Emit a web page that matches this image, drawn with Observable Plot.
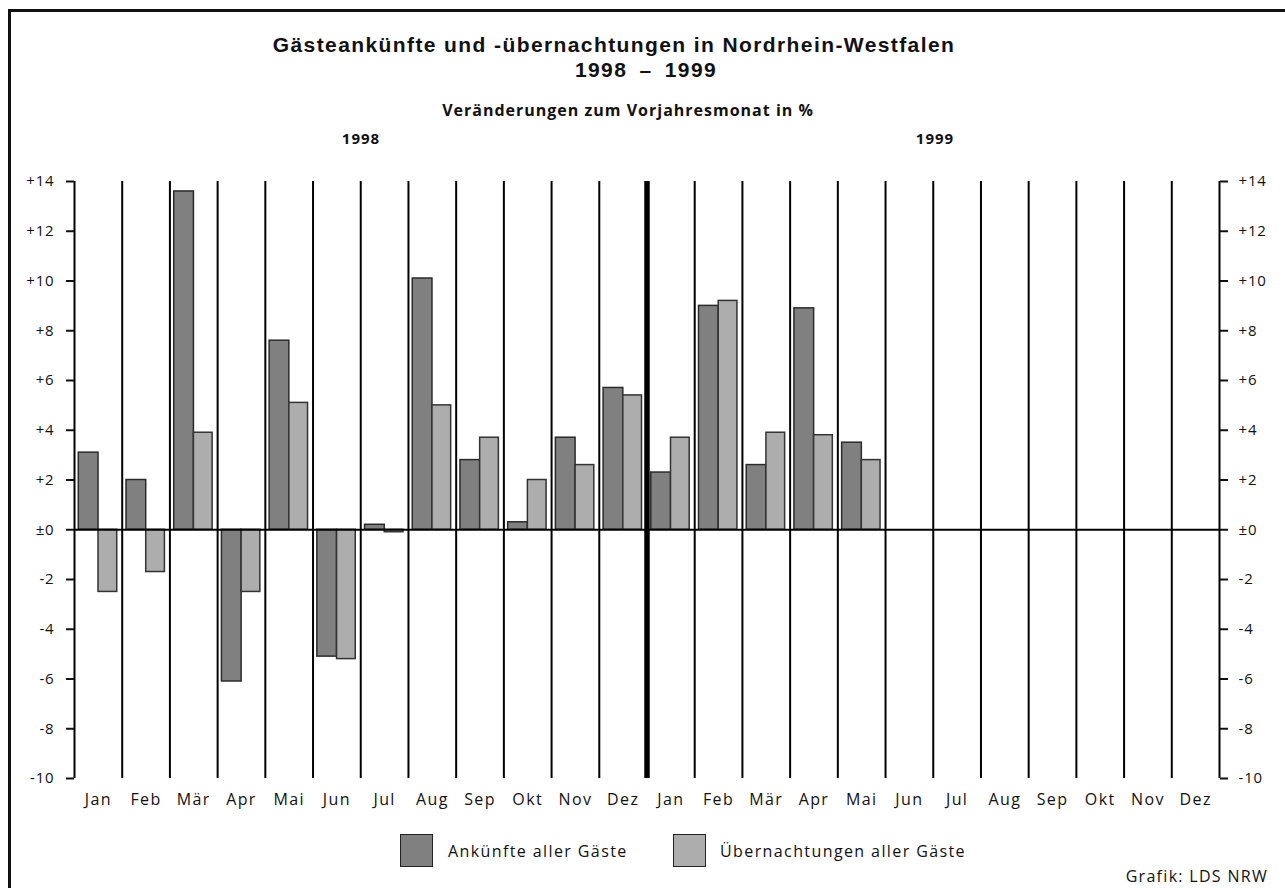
<!DOCTYPE html>
<html>
<head>
<meta charset="utf-8">
<script src="https://cdn.jsdelivr.net/npm/d3@7"></script>
<script src="https://cdn.jsdelivr.net/npm/@observablehq/plot@0.6"></script>
<style>
  html, body { margin: 0; padding: 0; background: #fff; }
  #wrap { position: relative; width: 1285px; height: 888px; overflow: hidden; font-family: "Open Sans", sans-serif; color: #111; }
  #frame { position: absolute; left: 8px; top: 9px; width: 1400px; height: 1000px; border-left: 3px solid #111; border-top: 3px solid #111; }
  .t { position: absolute; white-space: nowrap; transform: translate(-50%, -50%); line-height: 1; }
  .b { font-weight: 700; }
  #title { position: absolute; left: 614px; top: 33px; transform: translateX(-50%); text-align: center; white-space: nowrap; font-family: "Liberation Sans", Arial, sans-serif; font-weight: 700; font-size: 21px; letter-spacing: 1.4px; line-height: 24.5px; }
  #title .l2 { position: relative; left: 32px; word-spacing: 5px; }
  #chart { position: absolute; left: 0; top: 170px; width: 1285px; }
  .sw { position: absolute; width: 31px; height: 31px; border: 1.5px solid #222; }
  .lg { position: absolute; font-size: 16px; letter-spacing: 1.4px; line-height: 1; transform: translateY(-50%); white-space: nowrap; }
  #credit { position: absolute; right: 17px; top: 876px; transform: translateY(-50%); font-size: 16px; letter-spacing: 1.3px; line-height: 1; white-space: nowrap; }
  #chart svg text { letter-spacing: 0.8px; }
  #chart svg g[aria-label="x-axis tick label"] text { letter-spacing: 1.4px; }
</style>
</head>
<body>
<div id="wrap">
  <div id="frame"></div>
  <div id="title">Gästeankünfte und -übernachtungen in Nordrhein-Westfalen<br><span class="l2">1998 – 1999</span></div>
  <div class="t b" style="left:628px;top:110px;font-size:16px;letter-spacing:1px;">Veränderungen zum Vorjahresmonat in %</div>
  <div class="t b" id="y1" style="left:361px;top:138px;font-size:15px;letter-spacing:1px;"></div>
  <div class="t b" id="y2" style="left:935px;top:138px;font-size:15px;letter-spacing:1px;"></div>
  <div id="chart"></div>
  <div class="sw" id="sw0" style="left:400px;top:834px;"></div>
  <div class="lg" id="lg0" style="left:448px;top:851px;"></div>
  <div class="sw" id="sw1" style="left:673px;top:834px;"></div>
  <div class="lg" id="lg1" style="left:720px;top:851px;"></div>
  <div id="credit">Grafik: LDS NRW</div>
</div>
<script>
// ---- data ----
const years = [1998, 1999];
const months = ["Jan", "Feb", "Mär", "Apr", "Mai", "Jun", "Jul", "Aug", "Sep", "Okt", "Nov", "Dez"];
const seriesNames = ["Ankünfte aller Gäste", "Übernachtungen aller Gäste"];
const seriesColors = ["#808080", "#adadad"];
// Veränderungen zum Vorjahresmonat in % (1998 Jan..Dez, 1999 Jan..Dez)
const ankuenfte = [3.1, 2.0, 13.6, -6.1, 7.6, -5.1, 0.2, 10.1, 2.8, 0.3, 3.7, 5.7,
                   2.3, 9.0, 2.6, 8.9, 3.5, null, null, null, null, null, null, null];
const uebernachtungen = [-2.5, -1.7, 3.9, -2.5, 5.1, -5.2, -0.1, 5.0, 3.7, 2.0, 2.6, 5.4,
                         3.7, 9.2, 3.9, 3.8, 2.8, null, null, null, null, null, null, null];
const yTicks = [-10, -8, -6, -4, -2, 0, 2, 4, 6, 8, 10, 12, 14];

// ---- build ----
const keys = [];
years.forEach(y => months.forEach((m, i) => keys.push(`${y}-${i}`)));
const monthOf = k => months[+k.split("-")[1]];
const rowsA = keys.map((k, i) => ({key: k, value: ankuenfte[i]})).filter(d => d.value != null);
const rowsU = keys.map((k, i) => ({key: k, value: uebernachtungen[i]})).filter(d => d.value != null);

document.getElementById("y1").textContent = years[0];
document.getElementById("y2").textContent = years[1];
document.getElementById("lg0").textContent = seriesNames[0];
document.getElementById("lg1").textContent = seriesNames[1];
document.getElementById("sw0").style.background = seriesColors[0];
document.getElementById("sw1").style.background = seriesColors[1];

const W = 1285, H = 650, ML = 74, MR = 66, MT = 11, MB = 42;
const bw = (W - ML - MR) / keys.length;
const fmt = d => d > 0 ? "+" + d : d === 0 ? "±0" : "-" + Math.abs(d);
const inner = keys.slice(1).filter(k => k !== `${years[1]}-0`);
const yearBoundary = [`${years[1]}-0`];

const chart = Plot.plot({
  width: W, height: H,
  marginLeft: ML, marginRight: MR, marginTop: MT, marginBottom: MB,
  style: {fontFamily: "'Open Sans', sans-serif", color: "#111", background: "transparent", overflow: "visible"},
  x: {type: "band", domain: keys, padding: 0, round: false, axis: null},
  y: {domain: [-10, 14], axis: null},
  marks: [
    Plot.ruleX(inner, {x: d => d, dx: -bw / 2, y1: -10, y2: 14, stroke: "#000", strokeWidth: 2}),
    Plot.ruleX(yearBoundary, {x: d => d, dx: -bw / 2, y1: -10, y2: 14, stroke: "#000", strokeWidth: 5.5}),
    Plot.ruleX([keys[0]], {x: d => d, dx: -bw / 2, y1: -10, y2: 14, stroke: "#000", strokeWidth: 2}),
    Plot.ruleX([keys[keys.length - 1]], {x: d => d, dx: bw / 2, y1: -10, y2: 14, stroke: "#000", strokeWidth: 2}),
    Plot.barY(rowsA, {x: "key", y1: 0, y2: "value", fill: seriesColors[0], stroke: "#2a2a2a", strokeWidth: 1.5, insetLeft: 4.3, insetRight: 23.7}),
    Plot.barY(rowsU, {x: "key", y1: 0, y2: "value", fill: seriesColors[1], stroke: "#333", strokeWidth: 1.5, insetLeft: 24, insetRight: 5}),
    Plot.ruleY([0], {stroke: "#000", strokeWidth: 2}),
    Plot.axisY({anchor: "left", ticks: yTicks, tickFormat: fmt, tickSize: 8, tickPadding: 12, strokeWidth: 2, fontSize: 15, label: null}),
    Plot.axisY({anchor: "right", ticks: yTicks, tickFormat: fmt, tickSize: 8, tickPadding: 11, strokeWidth: 2, fontSize: 15, label: null}),
    Plot.axisX({anchor: "bottom", tickSize: 0, tickPadding: 15, tickFormat: monthOf, fontSize: 16, label: null})
  ]
});
document.getElementById("chart").appendChild(chart);
</script>
</body>
</html>
